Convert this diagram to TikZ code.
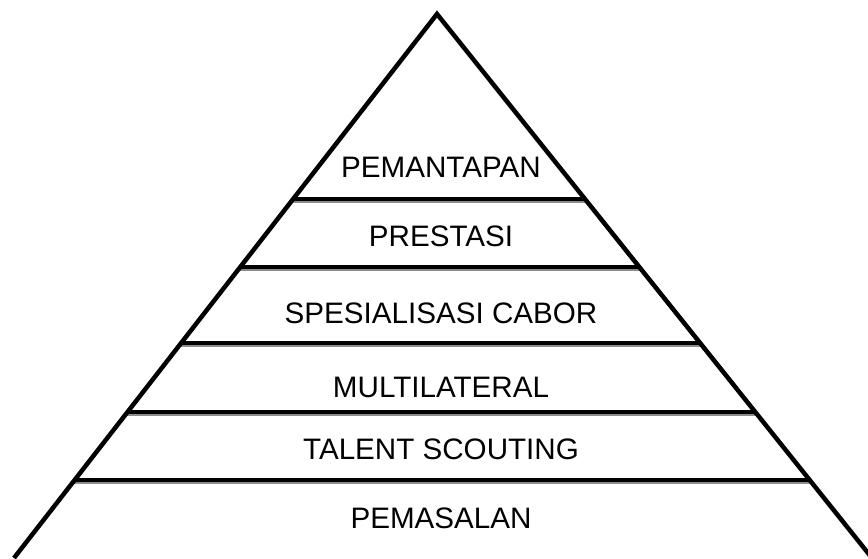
\documentclass[tikz,border=0pt]{standalone}
\usepackage{fontspec}
\setmainfont{Liberation Sans}
\usetikzlibrary{calc}

\begin{document}
\begin{tikzpicture}[
	x=1pt, y=1pt,
	side/.style={line width=4.5pt, black},
	divider/.style={line width=4.5pt, black},
	dividershadow/.style={line width=2pt, black!45},
	levelname/.style={
		font=\fontsize{29.6}{34}\selectfont,
		anchor=base, inner sep=0pt
	}
	]
	
	\useasboundingbox (0,0) rectangle (868,558);
	\clip (0,0) rectangle (868,558);
	
	% corners of the pyramid
	\coordinate (top) at (437,544);
	\coordinate (baseL) at (14,0);
	\coordinate (baseR) at (872,0);
	
	% lines between the levels
	\foreach \f [count=\i] in {0.340,0.465,0.605,0.732,0.857} {
		\coordinate (l\i) at ($(top)!\f!(baseL)$);
		\coordinate (r\i) at ($(top)!\f!(baseR)$);
		\draw[dividershadow] ($(l\i)+(0,-3.2)$) -- ($(r\i)+(0,-3.2)$);
		\draw[divider] (l\i) -- (r\i);
	}
	
	% sides
	\draw[side] (baseL) -- (top) -- (baseR);
	
	% levels, top to bottom
	\node[levelname] (pemantapan) at (441,380) {PEMANTAPAN};
	\node[levelname] (prestasi) at (441,311) {PRESTASI};
	\node[levelname] (spesialisasi) at (441,235) {SPESIALISASI CABOR};
	\node[levelname] (multilateral) at (441,161) {MULTILATERAL};
	\node[levelname] (talent) at (441,99) {TALENT SCOUTING};
	\node[levelname] (pemasalan) at (441,30) {PEMASALAN};
\end{tikzpicture}
\end{document}
